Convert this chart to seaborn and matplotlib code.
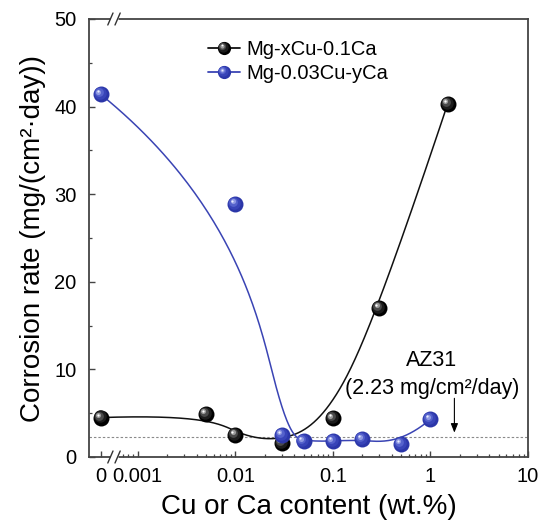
import numpy as np
import pandas as pd
import matplotlib
matplotlib.use("Agg")
import matplotlib.pyplot as plt
import seaborn as sns
from matplotlib.transforms import offset_copy
from matplotlib.lines import Line2D
from matplotlib.legend_handler import HandlerLine2D
from matplotlib.ticker import FixedLocator, NullFormatter

# ---- data -------------------------------------------------------------
cu_content = [0, 0.005, 0.01, 0.03, 0.1, 0.3, 1.5]        # Mg-xCu-0.1Ca, x in wt.%
cu_rate = [4.5, 4.9, 2.5, 1.6, 4.4, 17.0, 40.3]           # mg/(cm2 day)
ca_content = [0, 0.01, 0.03, 0.05, 0.1, 0.2, 0.5, 1.0]    # Mg-0.03Cu-yCa, y in wt.%
ca_rate = [41.4, 28.9, 2.5, 1.8, 1.8, 2.0, 1.5, 4.3]
az31_rate = 2.23
series_names = ["Mg-xCu-0.1Ca", "Mg-0.03Cu-yCa"]
x_tick_values = [0, 0.001, 0.01, 0.1, 1, 10]
x_tick_labels = ["0", "0.001", "0.01", "0.1", "1", "10"]
y_tick_values = [0, 10, 20, 30, 40, 50]

# position used for the "0" composition left of the axis break
ZERO_POS = 10 ** -3.38
X_MIN, X_MAX = 10 ** -3.5, 10.0


def on_axis(x):
    x = np.asarray(x, dtype=float)
    return np.where(x == 0, ZERO_POS, x)


def bspline(xs, ys, n=500, k=3):
    """Clamped uniform cubic B-spline using the points as control polygon
    (evaluated in log10(x), y space)."""
    P = np.column_stack([np.log10(on_axis(xs)), ys])
    m = len(P)
    inner = np.linspace(0, 1, m - k + 1)
    knots = np.concatenate([[0.0] * k, inner, [1.0] * k])
    t = np.linspace(0, 1, n)
    N = np.zeros((n, len(knots) - 1))
    for i in range(len(knots) - 1):
        N[:, i] = (knots[i] <= t) & (t < knots[i + 1])
    N[-1, m - 1] = 1.0
    for d in range(1, k + 1):
        newN = np.zeros((n, len(knots) - 1 - d))
        for i in range(len(knots) - 1 - d):
            a = knots[i + d] - knots[i]
            b = knots[i + d + 1] - knots[i + 1]
            left = (t - knots[i]) / a * N[:, i] if a > 0 else 0.0
            right = (knots[i + d + 1] - t) / b * N[:, i + 1] if b > 0 else 0.0
            newN[:, i] = left + right
        N = newN
    C = N @ P
    return 10 ** C[:, 0], C[:, 1]


# ---- style ------------------------------------------------------------
sns.set_theme(style="ticks")
plt.rcParams["font.family"] = ["Liberation Sans", "DejaVu Sans"]
plt.rcParams["axes.edgecolor"] = "#444444"
plt.rcParams["axes.linewidth"] = 1.3
plt.rcParams["text.color"] = "black"
plt.rcParams["axes.labelcolor"] = "black"
plt.rcParams["xtick.labelcolor"] = "black"
plt.rcParams["ytick.labelcolor"] = "black"

BLACK = "#000000"
BLUE = "#2b36a8"
BLACK_LINE = "#111111"
BLUE_LINE = "#3a44b4"
BALL = 11.5  # marker diameter in points

shade = {
    BLACK: ["#000000", "#1c1c1c", "#4a4a4a", "#9a9a9a", "#ffffff"],
    BLUE: ["#2b36a8", "#3844b8", "#5562cc", "#8f99e2", "#e8ebff"],
}
# (size fraction, offset fraction toward upper left)
layers = [(1.0, 0.0), (0.78, 0.07), (0.55, 0.13), (0.32, 0.17), (0.14, 0.19)]

fig = plt.figure(figsize=(5.44, 5.26), dpi=100)
ax = fig.add_axes([89 / 544, 1 - 457 / 526, 439 / 544, 438 / 526])
ax.set_xscale("log")


def draw_balls(xs, ys, color, z):
    xa = on_axis(xs)
    df = pd.DataFrame({"x": xa, "y": ys})
    sns.scatterplot(data=df, x="x", y="y", ax=ax, s=BALL ** 2, color=shade[color][0],
                    linewidth=0, zorder=z, legend=False, clip_on=False)
    for (frac, off), c in list(zip(layers, shade[color]))[1:]:
        tr = offset_copy(ax.transData, fig=fig, x=-off * BALL, y=off * BALL, units="points")
        ax.scatter(xa, ys, s=(frac * BALL) ** 2, color=c, linewidth=0,
                   transform=tr, zorder=z + 0.01, clip_on=False)


# smooth connecting curves
bx, by = bspline(cu_content, cu_rate)
sns.lineplot(x=bx, y=by, ax=ax, sort=False, estimator=None, color=BLACK_LINE,
             linewidth=1.1, zorder=3)
draw_balls(cu_content, cu_rate, BLACK, 4)

cx, cy = bspline(ca_content, ca_rate)
sns.lineplot(x=cx, y=cy, ax=ax, sort=False, estimator=None, color=BLUE_LINE,
             linewidth=1.1, zorder=5)
draw_balls(ca_content, ca_rate, BLUE, 6)

# AZ31 reference level
ax.axhline(az31_rate, color="#8a8a8a", linewidth=0.8, linestyle=(0, (2.2, 1.8)), zorder=2)
ax.annotate("", xy=(1.76, az31_rate + 0.55), xytext=(1.76, 6.7),
            arrowprops=dict(arrowstyle="-|>,head_length=0.45,head_width=0.18",
                            color="black", lw=0.8, shrinkA=0, shrinkB=0))
ax.text(1.02, 11.0, "AZ31", ha="center", va="center", fontsize=15.5)
ax.text(1.03, 7.8, "(2.23 mg/cm\u00b2/day)", ha="center", va="center", fontsize=15.5)

# ---- axes -------------------------------------------------------------
ax.set_xlim(X_MIN, X_MAX)
ax.set_ylim(0, 50)
ax.xaxis.set_major_locator(FixedLocator(list(on_axis(x_tick_values))))
ax.set_xticklabels(x_tick_labels)
minor = [0.0007, 0.0008, 0.0009]
for dec in [0.001, 0.01, 0.1, 1]:
    minor += [m * dec for m in range(2, 10)]
ax.xaxis.set_minor_locator(FixedLocator(minor))
ax.xaxis.set_minor_formatter(NullFormatter())
ax.set_yticks(y_tick_values)
ax.yaxis.set_minor_locator(FixedLocator([5, 15, 25, 35, 45]))

ax.tick_params(axis="both", which="major", direction="in", length=4.5, width=1.0,
               labelsize=14.5, color="#444444", labelcolor="black", top=False, right=False)
ax.tick_params(axis="both", which="minor", direction="in", length=2.4, width=0.9,
               color="#444444", top=False, right=False)
ax.tick_params(axis="x", which="major", pad=7)
ax.tick_params(axis="y", which="major", pad=9)

ax.set_xlabel("Cu or Ca content (wt.%)", fontsize=20, labelpad=6, color="black")
ax.set_ylabel("Corrosion rate (mg/(cm\u00b2\u00b7day))", fontsize=20, labelpad=6, color="black")

# axis break marks on top and bottom spines
bx0 = (114 - 89) / 439
gap = 3.6 / 439
sx, sy = 2.6 / 439, 6.0 / 438
for yb in (0.0, 1.0):
    ax.plot([bx0 - gap, bx0 + gap], [yb, yb], transform=ax.transAxes, color="white",
            linewidth=2.4, clip_on=False, zorder=10, solid_capstyle="butt")
    for cx0 in (bx0 - gap, bx0 + gap):
        ax.plot([cx0 - sx, cx0 + sx], [yb - sy, yb + sy], transform=ax.transAxes,
                color="#333333", linewidth=1.0, clip_on=False, zorder=11)

# ---- legend -----------------------------------------------------------


class BallHandler(HandlerLine2D):
    def __init__(self, color, **kw):
        super().__init__(**kw)
        self.ball_color = color

    def create_artists(self, legend, orig_handle, xdescent, ydescent, width, height,
                       fontsize, trans):
        y0 = height / 2 - ydescent
        line = Line2D([-xdescent, -xdescent + width], [y0, y0], color=orig_handle.get_color(),
                      linewidth=1.3, transform=trans)
        arts = [line]
        d = 9.5
        xc = -xdescent + width / 2
        for (frac, off), c in zip(layers, shade[self.ball_color]):
            arts.append(Line2D([xc - off * d], [y0 + off * d], marker="o", linestyle="none",
                               markersize=frac * d, markerfacecolor=c, markeredgewidth=0,
                               transform=trans))
        return arts


h1 = Line2D([], [], color=BLACK_LINE)
h2 = Line2D([], [], color=BLUE_LINE)
ax.legend([h1, h2], series_names, loc="upper left", bbox_to_anchor=((208 - 89) / 439, 0.952),
          frameon=False, fontsize=14.5, handlelength=1.6, handletextpad=0.3,
          labelspacing=0.25, borderpad=0, borderaxespad=0,
          handler_map={h1: BallHandler(BLACK), h2: BallHandler(BLUE)})

fig.savefig("out.png", dpi=100)
